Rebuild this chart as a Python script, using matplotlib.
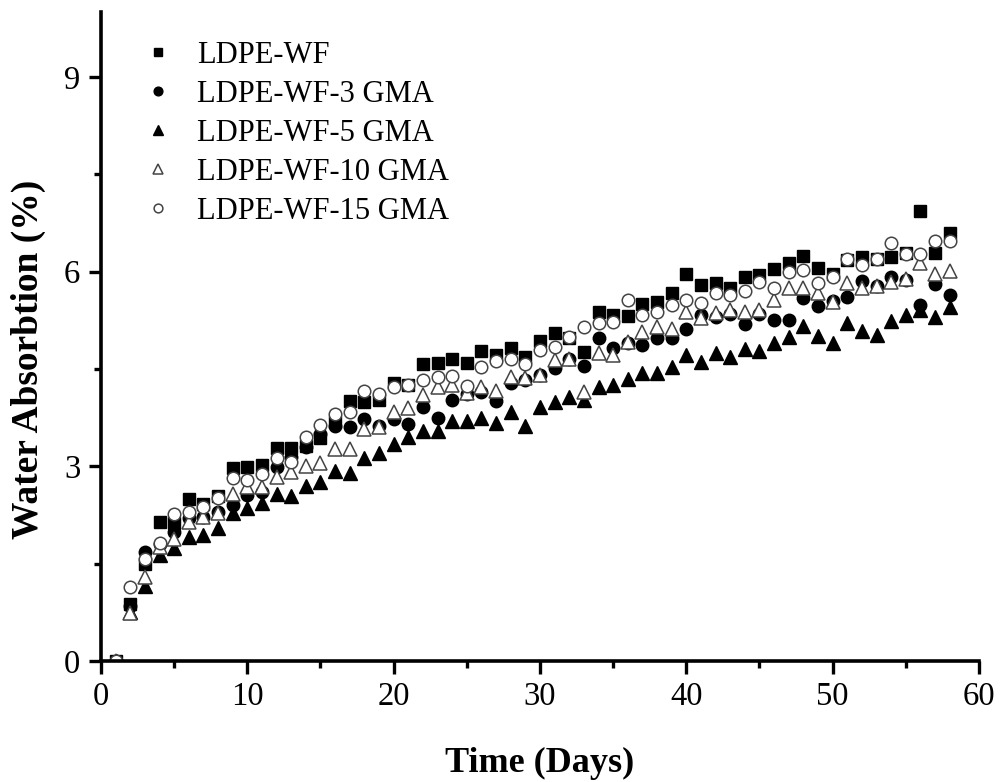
import numpy as np
import matplotlib
matplotlib.use("Agg")
from matplotlib import pyplot as plt
from matplotlib.ticker import MultipleLocator

plt.rcParams['font.family'] = ['Liberation Serif', 'DejaVu Serif']

days = np.arange(1, 59)

wf = [0, 0.88, 1.50, 2.14, 2.12, 2.50, 2.42, 2.55, 2.97, 2.99,
      3.02, 3.28, 3.28, 3.32, 3.44, 3.68, 4.00, 3.99, 4.02, 4.28,
      4.25, 4.58, 4.59, 4.65, 4.59, 4.78, 4.72, 4.82, 4.68, 4.93,
      5.05, 4.98, 4.76, 5.38, 5.33, 5.32, 5.50, 5.53, 5.67, 5.96,
      5.79, 5.83, 5.75, 5.92, 5.95, 6.04, 6.13, 6.24, 6.05, 5.96,
      6.18, 6.22, 6.20, 6.22, 6.28, 6.93, 6.29, 6.59]

gma3 = [0, 0.85, 1.68, 1.80, 1.99, 2.20, 2.22, 2.30, 2.40, 2.56,
        2.61, 2.99, 3.15, 3.30, 3.50, 3.62, 3.61, 3.73, 3.62, 3.73,
        3.65, 3.92, 3.74, 4.02, 4.12, 4.14, 4.00, 4.28, 4.33, 4.40,
        4.51, 4.65, 4.55, 4.98, 4.82, 4.90, 4.87, 4.98, 4.98, 5.12,
        5.33, 5.30, 5.34, 5.19, 5.35, 5.25, 5.25, 5.59, 5.47, 5.55,
        5.61, 5.86, 5.78, 5.91, 5.87, 5.49, 5.81, 5.64]

gma5 = [0, 0.75, 1.16, 1.63, 1.74, 1.91, 1.94, 2.05, 2.28, 2.36,
        2.43, 2.57, 2.54, 2.70, 2.76, 2.93, 2.90, 3.13, 3.20, 3.34,
        3.45, 3.55, 3.55, 3.70, 3.70, 3.74, 3.67, 3.84, 3.62, 3.91,
        3.99, 4.07, 4.02, 4.22, 4.25, 4.34, 4.44, 4.44, 4.53, 4.71,
        4.60, 4.75, 4.68, 4.81, 4.78, 4.90, 4.99, 5.16, 5.01, 4.90,
        5.21, 5.09, 5.02, 5.24, 5.33, 5.41, 5.30, 5.45]

gma10 = [0, 0.74, 1.29, 1.75, 1.88, 2.14, 2.22, 2.28, 2.57, 2.68,
         2.68, 2.84, 2.91, 3.00, 3.05, 3.27, 3.27, 3.57, 3.60, 3.84,
         3.90, 4.10, 4.22, 4.25, 4.13, 4.22, 4.16, 4.38, 4.36, 4.41,
         4.64, 4.65, 4.14, 4.75, 4.72, 4.92, 5.07, 5.15, 5.12, 5.38,
         5.28, 5.36, 5.41, 5.38, 5.41, 5.56, 5.75, 5.75, 5.67, 5.53,
         5.82, 5.75, 5.78, 5.84, 5.89, 6.13, 5.96, 6.01]

gma15 = [0, 1.14, 1.57, 1.82, 2.26, 2.29, 2.37, 2.51, 2.82, 2.79,
         2.88, 3.13, 3.07, 3.45, 3.64, 3.80, 3.83, 4.16, 4.11, 4.22,
         4.25, 4.33, 4.38, 4.39, 4.24, 4.53, 4.62, 4.65, 4.58, 4.79,
         4.84, 4.99, 5.15, 5.21, 5.23, 5.56, 5.33, 5.38, 5.49, 5.56,
         5.51, 5.67, 5.64, 5.70, 5.84, 5.75, 6.00, 6.02, 5.82, 5.91,
         6.20, 6.10, 6.19, 6.44, 6.27, 6.27, 6.47, 6.47]

labels = ['LDPE-WF', 'LDPE-WF-3 GMA', 'LDPE-WF-5 GMA',
          'LDPE-WF-10 GMA', 'LDPE-WF-15 GMA']

fig = plt.figure(figsize=(10.02, 7.82), dpi=100)
ax = fig.add_axes([0.1008, 0.1547, 0.8762, 0.83])

ms = 9
ax.plot(days, wf, 's', ms=ms - 0.5, color='black', label=labels[0])
ax.plot(days, gma3, 'o', ms=ms, color='black', label=labels[1])
ax.plot(days, gma5, '^', ms=ms + 1, color='black', label=labels[2])
ax.plot(days, gma10, '^', ms=ms + 1, mfc='white', mec='#444444', mew=1.1, label=labels[3])
ax.plot(days, gma15, 'o', ms=ms, mfc='white', mec='#444444', mew=1.1, label=labels[4])

ax.set_xlim(0, 60)
ax.set_ylim(0, 10)
ax.xaxis.set_major_locator(MultipleLocator(10))
ax.xaxis.set_minor_locator(MultipleLocator(5))
ax.yaxis.set_major_locator(MultipleLocator(3))
ax.yaxis.set_minor_locator(MultipleLocator(1.5))

for s in ['top', 'right']:
    ax.spines[s].set_visible(False)
for s in ['left', 'bottom']:
    ax.spines[s].set_linewidth(2.6)
ax.tick_params(which='major', direction='out', length=9, width=2.4, labelsize=23.5, pad=6)
ax.tick_params(which='minor', direction='out', length=5, width=2.4)

ax.set_xlabel('Time (Days)', fontsize=26, fontweight='bold', labelpad=25)
ax.set_ylabel('Water Absorbtion (%)', fontsize=27, fontweight='bold')
ax.yaxis.set_label_coords(-0.063, 0.464)

ax.legend(loc='upper left', bbox_to_anchor=(0.020, 0.998), frameon=False, fontsize=22,
          markerscale=0.7, handlelength=0.8, handletextpad=0.87, labelspacing=0.33)

fig.savefig('out.png', dpi=100)
